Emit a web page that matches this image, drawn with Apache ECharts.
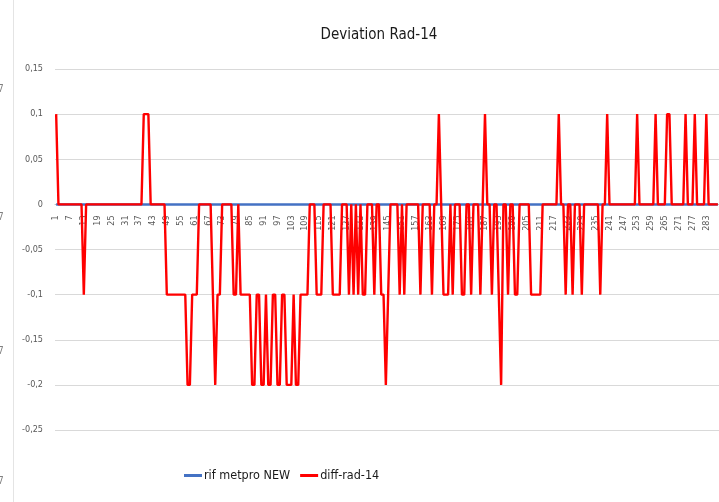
<!DOCTYPE html>
<html>
<head>
<meta charset="utf-8">
<script src="https://cdn.jsdelivr.net/npm/echarts@6/dist/echarts.min.js"></script>
<style>
html,body{margin:0;padding:0;background:#fff;}
#chart{width:719px;height:502px;}
</style>
</head>
<body>
<div id="chart"></div>
<script>
// ---- data ----
var chartTitle = 'Deviation Rad-14';
var seriesNames = ['rif metpro NEW', 'diff-rad-14'];

var rifMetproNew = [
  0,0,0,0,0,0,0,0,0,0,0,0,
  0,0,0,0,0,0,0,0,0,0,0,0,
  0,0,0,0,0,0,0,0,0,0,0,0,
  0,0,0,0,0,0,0,0,0,0,0,0,
  0,0,0,0,0,0,0,0,0,0,0,0,
  0,0,0,0,0,0,0,0,0,0,0,0,
  0,0,0,0,0,0,0,0,0,0,0,0,
  0,0,0,0,0,0,0,0,0,0,0,0,
  0,0,0,0,0,0,0,0,0,0,0,0,
  0,0,0,0,0,0,0,0,0,0,0,0,
  0,0,0,0,0,0,0,0,0,0,0,0,
  0,0,0,0,0,0,0,0,0,0,0,0,
  0,0,0,0,0,0,0,0,0,0,0,0,
  0,0,0,0,0,0,0,0,0,0,0,0,
  0,0,0,0,0,0,0,0,0,0,0,0,
  0,0,0,0,0,0,0,0,0,0,0,0,
  0,0,0,0,0,0,0,0,0,0,0,0,
  0,0,0,0,0,0,0,0,0,0,0,0,
  0,0,0,0,0,0,0,0,0,0,0,0,
  0,0,0,0,0,0,0,0,0,0,0,0,
  0,0,0,0,0,0,0,0,0,0,0,0,
  0,0,0,0,0,0,0,0,0,0,0,0,
  0,0,0,0,0,0,0,0,0,0,0,0,
  0,0,0,0,0,0,0,0,0,0,0,0
];

var diffRad14 = [
  0.1,0,0,0,0,0,0,0,0,0,0,0,
  -0.1,0,0,0,0,0,0,0,0,0,0,0,
  0,0,0,0,0,0,0,0,0,0,0,0,
  0,0,0.1,0.1,0.1,0,0,0,0,0,0,0,
  -0.1,-0.1,-0.1,-0.1,-0.1,-0.1,-0.1,-0.1,-0.1,-0.2,-0.2,-0.1,
  -0.1,-0.1,0,0,0,0,0,0,-0.1,-0.2,-0.1,-0.1,
  0,0,0,0,0,-0.1,-0.1,0,-0.1,-0.1,-0.1,-0.1,
  -0.1,-0.2,-0.2,-0.1,-0.1,-0.2,-0.2,-0.1,-0.2,-0.2,-0.1,-0.1,
  -0.2,-0.2,-0.1,-0.1,-0.2,-0.2,-0.2,-0.1,-0.2,-0.2,-0.1,-0.1,
  -0.1,-0.1,0,0,0,-0.1,-0.1,-0.1,0,0,0,0,
  -0.1,-0.1,-0.1,-0.1,0,0,0,-0.1,0,-0.1,0,-0.1,
  0,-0.1,-0.1,0,0,0,-0.1,0,0,-0.1,-0.1,-0.2,
  -0.1,0,0,0,0,-0.1,0,-0.1,0,0,0,0,
  0,0,-0.1,0,0,0,0,-0.1,0,0,0.1,0,
  -0.1,-0.1,-0.1,0,-0.1,0,0,0,-0.1,-0.1,0,0,
  -0.1,0,0,0,-0.1,0,0.1,0,0,-0.1,0,0,
  -0.1,-0.2,0,0,-0.1,0,0,-0.1,-0.1,0,0,0,
  0,0,-0.1,-0.1,-0.1,-0.1,-0.1,0,0,0,0,0,
  0,0,0.1,0,0,-0.1,0,0,-0.1,0,0,0,
  -0.1,0,0,0,0,0,0,0,-0.1,0,0,0.1,
  0,0,0,0,0,0,0,0,0,0,0,0,
  0.1,0,0,0,0,0,0,0,0.1,0,0,0,
  0,0.1,0.1,0,0,0,0,0,0,0.1,0,0,
  0,0.1,0,0,0,0,0.1,0,0,0,0,0
];

var categories = [];
for (var i = 1; i <= diffRad14.length; i++) categories.push(String(i));

var yMin = -0.25, yMax = 0.15, yStep = 0.05;
var edgeMarks = ['7', '7', '7', '7'];

// ---- chart ----
var narrow = "'Liberation Sans Narrow', 'DejaVu Sans Condensed', 'Liberation Sans', sans-serif";
var chart = echarts.init(document.getElementById('chart'), null, {renderer: 'canvas'});

var gridTop = 69, gridHeight = 361;
// distance from bottom of grid to the zero line (category axis crosses at 0)
var zeroOffset = -gridHeight * (0 - yMin) / (yMax - yMin);

var edgeY = [90, 218, 352, 482];
var graphics = [{
  type: 'line', shape: {x1: 13.5, y1: 0, x2: 13.5, y2: 502},
  style: {stroke: '#e4e4e4', lineWidth: 1}, silent: true
}];
edgeMarks.forEach(function (t, k) {
  graphics.push({
    type: 'text', left: -2, top: edgeY[k] - 6,
    style: {text: t, fontSize: 10, fill: '#808080', fontFamily: narrow}, silent: true
  });
});

chart.setOption({
  backgroundColor: '#ffffff',
  animation: false,
  title: {
    text: chartTitle,
    left: 374, top: 23, textAlign: 'center',
    textStyle: {fontFamily: narrow, fontSize: 15, fontWeight: 'normal', color: '#1a1a1a'}
  },
  legend: {
    left: 179, top: 464,
    itemWidth: 18, itemHeight: 3, itemGap: 10,
    icon: 'rect',
    textStyle: {fontFamily: narrow, fontSize: 12.5, color: '#1a1a1a', padding: [0, 0, 0, -3]},
    data: seriesNames
  },
  graphic: graphics,
  grid: {left: 55, top: gridTop, width: 668, height: gridHeight, containLabel: false},
  xAxis: {
    type: 'category',
    data: categories,
    boundaryGap: true,
    offset: zeroOffset,
    axisLine: {onZero: false, lineStyle: {color: '#bfbfbf', width: 1}},
    axisTick: {show: false},
    axisLabel: {
      interval: 5, rotate: 90, margin: 11,
      fontFamily: narrow, fontSize: 9, color: '#595959'
    },
    splitLine: {show: false}
  },
  yAxis: {
    type: 'value',
    min: yMin, max: yMax, interval: yStep,
    axisLine: {show: false},
    axisTick: {show: false},
    axisLabel: {
      margin: 12, fontFamily: narrow, fontSize: 9, color: '#595959',
      formatter: function (v) {
        var s = (Math.round(v * 100) / 100).toString();
        return s.replace('.', ',');
      }
    },
    splitLine: {lineStyle: {color: '#d9d9d9', width: 1}}
  },
  series: [
    {
      name: seriesNames[0], type: 'line', data: rifMetproNew,
      showSymbol: false, symbol: 'none',
      lineStyle: {color: '#4472c4', width: 2.5},
      itemStyle: {color: '#4472c4'}
    },
    {
      name: seriesNames[1], type: 'line', data: diffRad14,
      showSymbol: false, symbol: 'none',
      lineStyle: {color: '#ff0000', width: 2.4},
      itemStyle: {color: '#ff0000'}
    }
  ]
});
</script>
</body>
</html>
